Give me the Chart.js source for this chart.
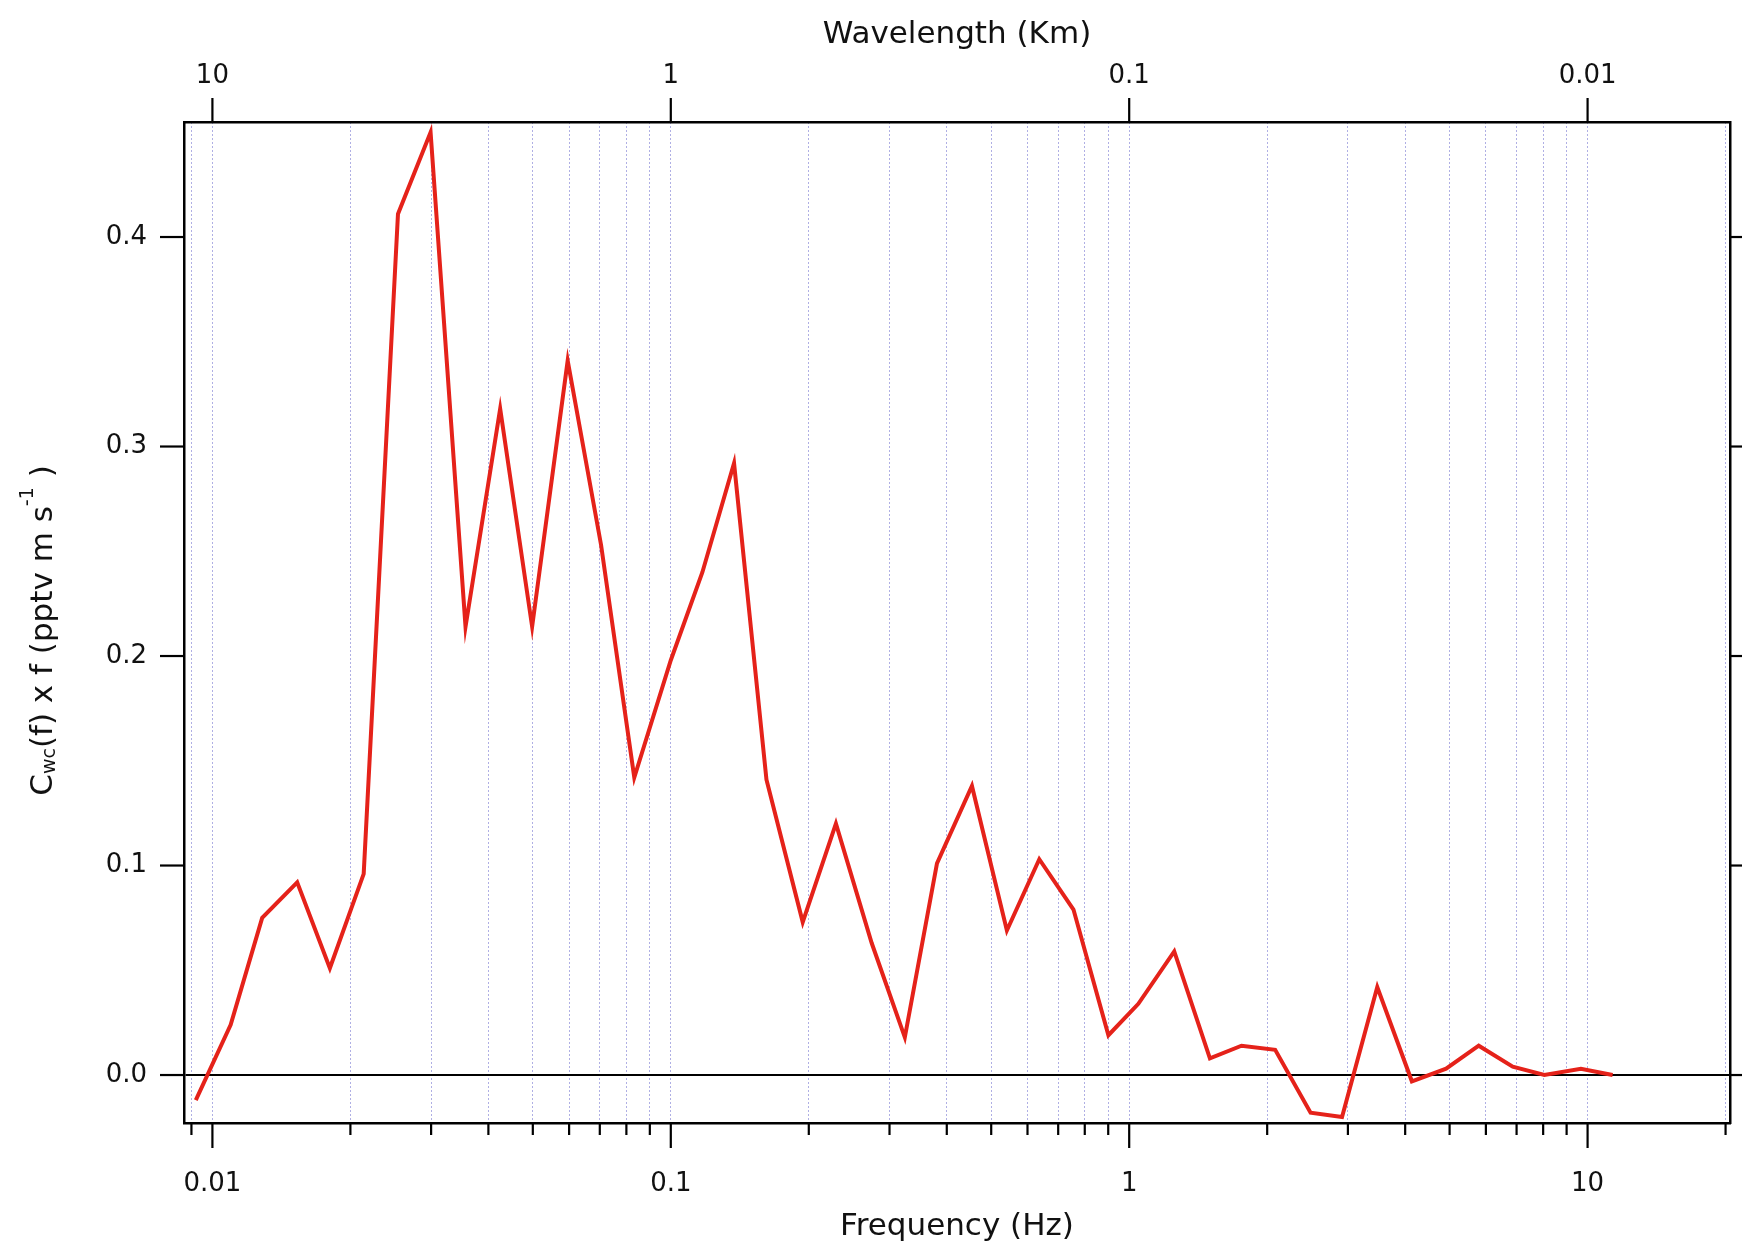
<!DOCTYPE html>
<html>
<head>
<meta charset="utf-8">
<script src="https://cdn.jsdelivr.net/npm/chart.js@4.4.1/dist/chart.umd.min.js"></script>
<style>
  html, body { margin: 0; padding: 0; background: #fff; }
  canvas { display: block; }
</style>
</head>
<body>
<canvas id="spectrum" width="1742" height="1246"></canvas>
<script>
// Frequency-weighted w'c' cospectrum on a log frequency axis, with the
// matching wavelength scale along the top.

const frequencyHz = [
  0.0092, 0.01096, 0.01284, 0.01531, 0.01804, 0.02138, 0.0254, 0.02992, 0.03566, 0.04244,
  0.04983, 0.05957, 0.07045, 0.08324, 0.1, 0.1172, 0.1374, 0.1617, 0.194, 0.2292,
  0.2743, 0.324, 0.3808, 0.4539, 0.541, 0.6366, 0.7559, 0.9009, 1.047, 1.254,
  1.5, 1.758, 2.082, 2.487, 2.913, 3.477, 4.137, 4.913, 5.788, 6.866,
  8.048, 9.67, 11.34,
];
const cwcTimesF = [
  -0.012, 0.024, 0.075, 0.092, 0.051, 0.096, 0.411, 0.450, 0.214, 0.318,
  0.214, 0.341, 0.253, 0.142, 0.198, 0.240, 0.292, 0.141, 0.073, 0.120,
  0.063, 0.018, 0.101, 0.138, 0.069, 0.103, 0.079, 0.019, 0.034, 0.059,
  0.008, 0.014, 0.012, -0.018, -0.020, 0.042, -0.003, 0.003, 0.014, 0.004,
  0.000, 0.003, 0.000,
];

const freqTickValues = [0.01, 0.1, 1, 10];
const freqTickLabels = ["0.01", "0.1", "1", "10"];
const waveTickValues = [10, 1, 0.1, 0.01];
const waveTickLabels = ["10", "1", "0.1", "0.01"];
const yTickValues = [0, 0.1, 0.2, 0.3, 0.4];
const yTickLabels = ["0.0", "0.1", "0.2", "0.3", "0.4"];

const F_MIN = 0.00867, F_MAX = 20.45;
const Y_MIN = -0.0229, Y_MAX = 0.4549;
const KM_HZ = 0.1; // wavelength (km) = KM_HZ / f

// dotted grid at every 1..9 x 10^n frequency tick
const freqGridValues = [0.009];
for (let e = -2; e <= 1; e++) {
  for (let m = 1; m <= 9; m++) {
    const v = +(m * Math.pow(10, e)).toPrecision(4);
    if (v <= F_MAX) freqGridValues.push(v);
  }
}

const FONT = '"DejaVu Sans", sans-serif';
const INK = "#111";
const GRID = "rgba(110,110,205,0.55)";

Chart.defaults.font.family = FONT;
Chart.defaults.color = INK;

const labelFrom = (values, labels) => (v) => {
  const i = values.indexOf(v);
  return i >= 0 ? labels[i] : "";
};

// pin an axis to a fixed thickness and drop the label overhang padding
const fixSize = (key, px) => (s) => {
  s[key] = px;
  s.paddingLeft = s.paddingRight = s.paddingTop = s.paddingBottom = 0;
};

// outward tick marks on all four sides
const tickMarks = {
  id: "tickMarks",
  afterDraw(chart) {
    const { ctx, chartArea: a, scales } = chart;
    const seg = (x1, y1, x2, y2) => {
      ctx.beginPath(); ctx.moveTo(x1, y1); ctx.lineTo(x2, y2); ctx.stroke();
    };
    ctx.save();
    ctx.strokeStyle = "#000";
    ctx.lineWidth = 2.2;
    scales.x.ticks.forEach((t) => {
      const px = scales.x.getPixelForValue(t.value);
      seg(px, a.bottom, px, a.bottom + (freqTickValues.includes(t.value) ? 25 : 12));
    });
    scales.xTop.ticks.forEach((t) => {
      const px = scales.xTop.getPixelForValue(t.value);
      seg(px, a.top, px, a.top - 24);
    });
    scales.y.ticks.forEach((t) => {
      const py = scales.y.getPixelForValue(t.value);
      seg(a.left, py, a.left - 24, py);
      seg(a.right, py, a.right + 24, py);
    });
    ctx.restore();
  },
};

// y title with subscript / superscript pieces, rotated
const yTitle = {
  id: "yTitle",
  afterDraw(chart) {
    const { ctx, chartArea: a } = chart;
    const size = 31, small = 19;
    const parts = [
      { text: "C", size, shift: 0 },
      { text: "wc", size: small, shift: 3 },
      { text: "(f) x f (pptv m s", size, shift: 0 },
      { text: "-1", size: small, shift: -19 },
      { text: " )", size, shift: 0 },
    ];
    ctx.save();
    ctx.fillStyle = INK;
    ctx.textAlign = "left";
    ctx.textBaseline = "alphabetic";
    let total = 0;
    parts.forEach((p) => {
      ctx.font = `${p.size}px ${FONT}`;
      p.w = ctx.measureText(p.text).width;
      total += p.w;
    });
    ctx.translate(41, (a.top + a.bottom) / 2 + 8);
    ctx.rotate(-Math.PI / 2);
    let x = -total / 2;
    const base = size * 0.36;
    parts.forEach((p) => {
      ctx.font = `${p.size}px ${FONT}`;
      ctx.fillText(p.text, x, base + p.shift);
      x += p.w;
    });
    ctx.restore();
  },
};

new Chart(document.getElementById("spectrum"), {
  type: "line",
  data: {
    datasets: [{
      data: frequencyHz.map((f, i) => ({ x: f, y: cwcTimesF[i] })),
      borderColor: "#e5221a",
      borderWidth: 4,
      pointRadius: 0,
      tension: 0,
      fill: false,
      xAxisID: "x",
      yAxisID: "y",
    }],
  },
  options: {
    responsive: false,
    devicePixelRatio: 1,
    animation: false,
    layout: { padding: 0 },
    plugins: { legend: { display: false }, tooltip: { enabled: false } },
    scales: {
      x: {
        type: "logarithmic",
        position: "bottom",
        min: F_MIN,
        max: F_MAX,
        afterBuildTicks: (s) => { s.ticks = freqGridValues.map((v) => ({ value: v })); },
        afterFit: fixSize("height", 123),
        grid: { drawTicks: false, color: GRID, lineWidth: 1 },
        border: { display: true, color: "#000", width: 2.5, dash: [2, 2] },
        ticks: {
          autoSkip: false, maxRotation: 0, padding: 46,
          font: { size: 26 },
          callback: labelFrom(freqTickValues, freqTickLabels),
        },
        title: {
          display: true, text: "Frequency (Hz)",
          font: { size: 31 }, padding: { top: 0, bottom: 0 },
        },
      },
      xTop: {
        type: "logarithmic",
        position: "top",
        reverse: true,
        min: KM_HZ / F_MAX,
        max: KM_HZ / F_MIN,
        afterBuildTicks: (s) => { s.ticks = waveTickValues.map((v) => ({ value: v })); },
        afterFit: fixSize("height", 122),
        grid: { display: false, drawTicks: false },
        border: { display: true, color: "#000", width: 2.5 },
        ticks: {
          autoSkip: false, maxRotation: 0, padding: 30.5,
          font: { size: 26 },
          callback: labelFrom(waveTickValues, waveTickLabels),
        },
        title: {
          display: true, text: "Wavelength (Km)",
          font: { size: 31 }, padding: { top: 16.5, bottom: 0 },
        },
      },
      y: {
        type: "linear",
        position: "left",
        min: Y_MIN,
        max: Y_MAX,
        afterBuildTicks: (s) => { s.ticks = yTickValues.map((v) => ({ value: v })); },
        afterFit: fixSize("width", 184),
        grid: {
          drawTicks: false,
          lineWidth: 2,
          color: (c) => (c.tick && c.tick.value === 0 ? "#000" : "rgba(0,0,0,0)"),
        },
        border: { display: true, color: "#000", width: 2.5 },
        ticks: {
          padding: 37,
          font: { size: 26 },
          callback: labelFrom(yTickValues, yTickLabels),
        },
      },
      yRight: {
        type: "linear",
        position: "right",
        min: Y_MIN,
        max: Y_MAX,
        afterBuildTicks: (s) => { s.ticks = yTickValues.map((v) => ({ value: v })); },
        afterFit: fixSize("width", 12),
        grid: { display: false, drawTicks: false },
        border: { display: true, color: "#000", width: 2.5 },
        ticks: { display: false },
      },
    },
  },
  plugins: [tickMarks, yTitle],
});
</script>
</body>
</html>
